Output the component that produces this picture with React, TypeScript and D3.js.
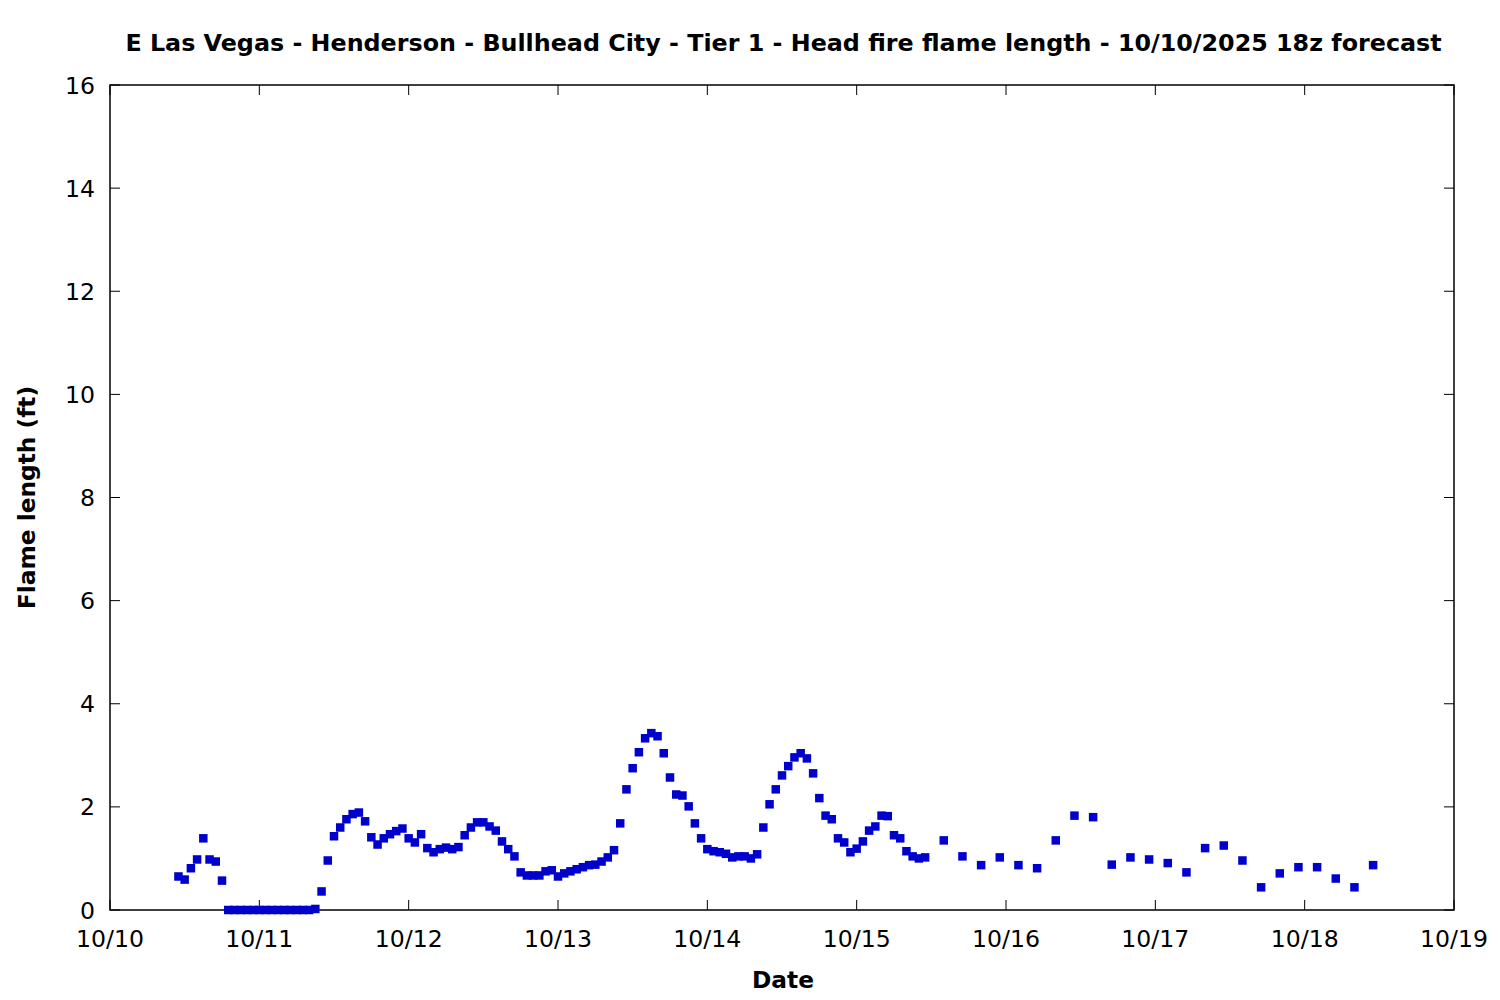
import React from "react";
import * as d3 from "d3";

const TITLE = "E Las Vegas - Henderson - Bullhead City - Tier 1 - Head fire flame length - 10/10/2025 18z forecast";
const X_LABEL = "Date";
const Y_LABEL = "Flame length (ft)";
const DAY_LABELS = ["10/10", "10/11", "10/12", "10/13", "10/14", "10/15", "10/16", "10/17", "10/18", "10/19"];
const Y_TICKS = [0, 2, 4, 6, 8, 10, 12, 14, 16];

// forecast hour offsets from 10/10 00z
const HOURS = [
  11, 12, 13, 14, 15, 16, 17, 18, 19, 20, 21, 22, 23, 24, 25, 26, 27, 28, 29, 30,
  31, 32, 33, 34, 35, 36, 37, 38, 39, 40, 41, 42, 43, 44, 45, 46, 47, 48, 49, 50,
  51, 52, 53, 54, 55, 56, 57, 58, 59, 60, 61, 62, 63, 64, 65, 66, 67, 68, 69, 70,
  71, 72, 73, 74, 75, 76, 77, 78, 79, 80, 81, 82, 83, 84, 85, 86, 87, 88, 89, 90,
  91, 92, 93, 94, 95, 96, 97, 98, 99, 100, 101, 102, 103, 104, 105, 106, 107, 108, 109, 110,
  111, 112, 113, 114, 115, 116, 117, 118, 119, 120, 121, 122, 123, 124, 125, 126, 127, 128, 129, 130,
  131, 134, 137, 140, 143, 146, 149, 152, 155, 158, 161, 164, 167, 170, 173, 176, 179, 182, 185, 188,
  191, 194, 197, 200, 203,
];

const FLAME = [
  0.65, 0.59, 0.81, 0.98, 1.39, 0.98, 0.94, 0.57, 0, 0, 0, 0, 0, 0, 0, 0, 0, 0, 0, 0,
  0, 0, 0.02, 0.36, 0.96, 1.43, 1.6, 1.76, 1.86, 1.89, 1.72, 1.41, 1.27, 1.39, 1.47, 1.53, 1.58, 1.39, 1.31, 1.47,
  1.2, 1.12, 1.18, 1.21, 1.18, 1.22, 1.45, 1.6, 1.7, 1.7, 1.62, 1.54, 1.33, 1.18, 1.04, 0.73, 0.67, 0.67, 0.67, 0.75,
  0.77, 0.65, 0.71, 0.75, 0.79, 0.83, 0.87, 0.88, 0.94, 1.02, 1.16, 1.68, 2.34, 2.75, 3.06, 3.33, 3.43, 3.37, 3.04, 2.57,
  2.24, 2.22, 2.01, 1.68, 1.39, 1.18, 1.14, 1.12, 1.09, 1.02, 1.04, 1.04, 1.0, 1.08, 1.6, 2.05, 2.34, 2.61, 2.79, 2.96,
  3.04, 2.94, 2.65, 2.17, 1.83, 1.76, 1.39, 1.31, 1.12, 1.19, 1.33, 1.54, 1.62, 1.83, 1.82, 1.45, 1.39, 1.14, 1.04, 1.0,
  1.02, 1.35, 1.04, 0.87, 1.02, 0.87, 0.81, 1.35, 1.83, 1.8, 0.88, 1.02, 0.98, 0.91, 0.73, 1.2, 1.25, 0.96, 0.44, 0.71,
  0.83, 0.83, 0.61, 0.44, 0.87,
];

const W = 1500;
const H = 1000;
const M = { left: 110, right: 1454, top: 85, bottom: 910 };
const FONT = "'DejaVu Sans', sans-serif";

export default function App() {
  const x = d3.scaleLinear().domain([0, 216]).range([M.left, M.right]);
  const y = d3.scaleLinear().domain([0, 16]).range([M.bottom, M.top]);
  const dayTicks = DAY_LABELS.map((lab, i) => ({ lab, h: i * 24 }));
  const ms = 8.5;
  const tickLen = 10;
  const tickFont = 23.6;
  return (
    <svg
      width={W}
      height={H}
      style={{ position: "absolute", left: 0, top: 0, background: "#fff" }}
      fontFamily={FONT}
    >
      <rect x={0} y={0} width={W} height={H} fill="#fff" />
      <text x={783.5} y={51} textAnchor="middle" fontWeight="bold" fontSize={23.8} fill="#000">
        {TITLE}
      </text>
      {/* y ticks */}
      {Y_TICKS.map((t) => (
        <g key={"y" + t}>
          <line x1={M.left} x2={M.left + tickLen} y1={y(t)} y2={y(t)} stroke="#000" strokeWidth={1} />
          <line x1={M.right} x2={M.right - tickLen} y1={y(t)} y2={y(t)} stroke="#000" strokeWidth={1} />
          <text x={95} y={y(t) + 8.5} textAnchor="end" fontSize={tickFont} fill="#000">
            {t}
          </text>
        </g>
      ))}
      {/* x ticks */}
      {dayTicks.map((d) => (
        <g key={"x" + d.lab}>
          <line x1={x(d.h)} x2={x(d.h)} y1={M.bottom} y2={M.bottom - tickLen} stroke="#000" strokeWidth={1} />
          <line x1={x(d.h)} x2={x(d.h)} y1={M.top} y2={M.top + tickLen} stroke="#000" strokeWidth={1} />
          <text x={x(d.h)} y={947} textAnchor="middle" fontSize={tickFont} fill="#000">
            {d.lab}
          </text>
        </g>
      ))}
      <rect
        x={M.left}
        y={M.top}
        width={M.right - M.left}
        height={M.bottom - M.top}
        fill="none"
        stroke="#000"
        strokeWidth={1.5}
      />
      {HOURS.map((h, i) => (
        <rect
          key={"p" + i}
          x={x(h) - ms / 2}
          y={y(FLAME[i]) - ms / 2}
          width={ms}
          height={ms}
          fill="#0000cc"
        />
      ))}
      <text x={783} y={988} textAnchor="middle" fontWeight="bold" fontSize={23.3} fill="#000">
        {X_LABEL}
      </text>
      <text
        transform={`translate(35, ${(M.top + M.bottom) / 2}) rotate(-90)`}
        textAnchor="middle"
        fontWeight="bold"
        fontSize={23.3}
        fill="#000"
      >
        {Y_LABEL}
      </text>
    </svg>
  );
}
